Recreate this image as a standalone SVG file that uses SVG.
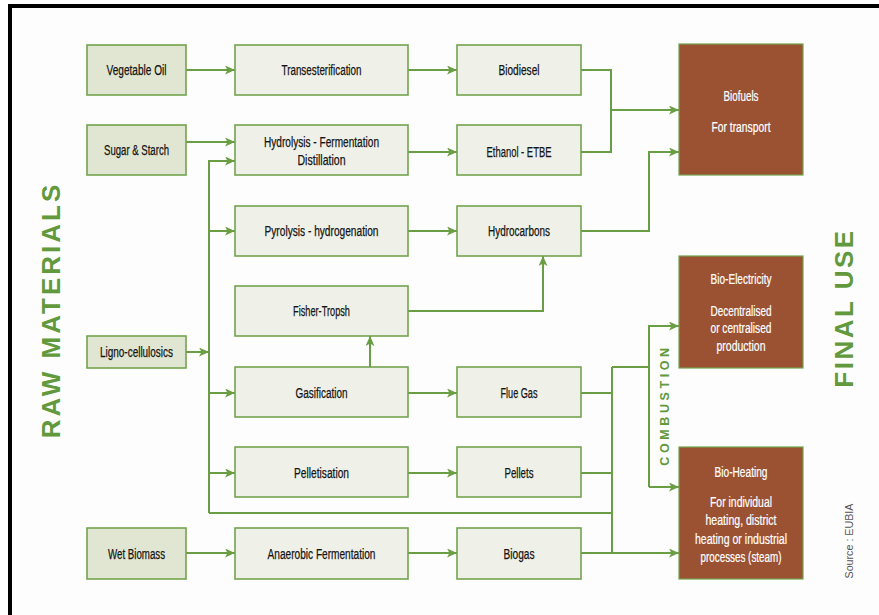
<svg xmlns="http://www.w3.org/2000/svg" width="879" height="615" viewBox="0 0 879 615">
<defs>
<marker id="ah" markerUnits="userSpaceOnUse" markerWidth="11" markerHeight="10" refX="10" refY="4.5" orient="auto">
<path d="M0,0 L10,4.5 L0,9 L2.5,4.5 z" fill="#6a9e44"/>
</marker>
</defs>
<style>
.raw{fill:#e1e6d2;stroke:#72a44e;stroke-width:1.6}
.proc{fill:#eff0e8;stroke:#72a44e;stroke-width:1.6}
.use{fill:#9a5233;stroke:#72a44e;stroke-width:1.2}
.t{font-family:"Liberation Sans",Arial,sans-serif;font-size:14px;fill:#151515;stroke:#151515;stroke-width:0.25;text-anchor:middle}
.w{font-family:"Liberation Sans",Arial,sans-serif;font-size:14px;fill:#ffffff;stroke:#ffffff;stroke-width:0.2;text-anchor:middle}
.c path{fill:none;stroke:#6a9e44;stroke-width:2}
.big{font-family:"Liberation Sans",Arial,sans-serif;font-weight:bold;fill:#62993c;text-anchor:middle}
</style>
<rect x="0" y="0" width="879" height="615" fill="#ffffff"/>
<rect x="10" y="6" width="869" height="609" fill="#fdfdfd"/>
<path d="M10,615 V6 H879" fill="none" stroke="#000" stroke-width="4"/>

<g class="c" id="connectors">
<path d="M186,70 H235" marker-end="url(#ah)"/>
<path d="M408,70 H457" marker-end="url(#ah)"/>
<path d="M186,142 H235" marker-end="url(#ah)"/>
<path d="M408,152 H457" marker-end="url(#ah)"/>
<path d="M581,70 H611 V152 H581"/>
<path d="M611,110 H679" marker-end="url(#ah)"/>
<path d="M581,231 H649 V152 H679" marker-end="url(#ah)"/>
<path d="M209,513 V161 H235" marker-end="url(#ah)"/>
<path d="M209,231 H235" marker-end="url(#ah)"/>
<path d="M209,393 H235" marker-end="url(#ah)"/>
<path d="M209,473 H235" marker-end="url(#ah)"/>
<path d="M186,352 H209" marker-end="url(#ah)"/>
<path d="M408,231 H457" marker-end="url(#ah)"/>
<path d="M408,311 H543 V256" marker-end="url(#ah)"/>
<path d="M370,367 V336" marker-end="url(#ah)"/>
<path d="M408,393 H457" marker-end="url(#ah)"/>
<path d="M408,473 H457" marker-end="url(#ah)"/>
<path d="M186,553 H235" marker-end="url(#ah)"/>
<path d="M408,553 H457" marker-end="url(#ah)"/>
<path d="M209,513 H612"/>
<path d="M581,393 H612"/>
<path d="M581,473 H612"/>
<path d="M612,367 V553"/>
<path d="M581,553 H679" marker-end="url(#ah)"/>
<path d="M612,367 H649"/>
<path d="M649,487 V326 H679" marker-end="url(#ah)"/>
<path d="M649,487 H679" marker-end="url(#ah)"/>
</g>

<g id="vegetable-oil"><rect class="raw" x="87" y="45" width="99" height="50"/><text class="t" x="136.5" y="75" textLength="60" lengthAdjust="spacingAndGlyphs">Vegetable Oil</text></g>
<g id="sugar-starch"><rect class="raw" x="87" y="125" width="99" height="50"/><text class="t" x="136.5" y="155" textLength="65" lengthAdjust="spacingAndGlyphs">Sugar &amp; Starch</text></g>
<g id="ligno"><rect class="raw" x="87" y="336" width="99" height="32"/><text class="t" x="136.5" y="357" textLength="73" lengthAdjust="spacingAndGlyphs">Ligno-cellulosics</text></g>
<g id="wet-biomass"><rect class="raw" x="87" y="528" width="99" height="51"/><text class="t" x="136.5" y="558.5" textLength="57" lengthAdjust="spacingAndGlyphs">Wet Biomass</text></g>

<g id="transesterification"><rect class="proc" x="235" y="45" width="173" height="50"/><text class="t" x="321.5" y="75" textLength="80" lengthAdjust="spacingAndGlyphs">Transesterification</text></g>
<g id="hydrolysis"><rect class="proc" x="235" y="125" width="173" height="50"/><text class="t" x="321.5" y="147" textLength="115" lengthAdjust="spacingAndGlyphs">Hydrolysis - Fermentation</text><text class="t" x="321.5" y="165" textLength="48" lengthAdjust="spacingAndGlyphs">Distillation</text></g>
<g id="pyrolysis"><rect class="proc" x="235" y="206" width="173" height="50"/><text class="t" x="321.5" y="236" textLength="114" lengthAdjust="spacingAndGlyphs">Pyrolysis - hydrogenation</text></g>
<g id="fisher-tropsh"><rect class="proc" x="235" y="286" width="173" height="50"/><text class="t" x="321.5" y="316" textLength="57" lengthAdjust="spacingAndGlyphs">Fisher-Tropsh</text></g>
<g id="gasification"><rect class="proc" x="235" y="367" width="173" height="50"/><text class="t" x="321.5" y="398" textLength="52" lengthAdjust="spacingAndGlyphs">Gasification</text></g>
<g id="pelletisation"><rect class="proc" x="235" y="447" width="173" height="50"/><text class="t" x="321.5" y="478" textLength="55" lengthAdjust="spacingAndGlyphs">Pelletisation</text></g>
<g id="anaerobic"><rect class="proc" x="235" y="528" width="173" height="51"/><text class="t" x="321.5" y="558.5" textLength="108" lengthAdjust="spacingAndGlyphs">Anaerobic Fermentation</text></g>

<g id="biodiesel"><rect class="proc" x="457" y="45" width="124" height="50"/><text class="t" x="519" y="75" textLength="41" lengthAdjust="spacingAndGlyphs">Biodiesel</text></g>
<g id="ethanol"><rect class="proc" x="457" y="125" width="124" height="50"/><text class="t" x="519" y="157" textLength="65" lengthAdjust="spacingAndGlyphs">Ethanol - ETBE</text></g>
<g id="hydrocarbons"><rect class="proc" x="457" y="206" width="124" height="50"/><text class="t" x="519" y="236" textLength="62" lengthAdjust="spacingAndGlyphs">Hydrocarbons</text></g>
<g id="flue-gas"><rect class="proc" x="457" y="367" width="124" height="50"/><text class="t" x="519" y="398" textLength="37" lengthAdjust="spacingAndGlyphs">Flue Gas</text></g>
<g id="pellets"><rect class="proc" x="457" y="447" width="124" height="50"/><text class="t" x="519" y="478" textLength="29" lengthAdjust="spacingAndGlyphs">Pellets</text></g>
<g id="biogas"><rect class="proc" x="457" y="528" width="124" height="51"/><text class="t" x="519" y="558.5" textLength="31" lengthAdjust="spacingAndGlyphs">Biogas</text></g>

<g id="biofuels"><rect class="use" x="679" y="44" width="124" height="131"/><text class="w" x="741" y="101" textLength="35" lengthAdjust="spacingAndGlyphs">Biofuels</text><text class="w" x="741" y="132" textLength="59" lengthAdjust="spacingAndGlyphs">For transport</text></g>
<g id="bio-electricity"><rect class="use" x="679" y="256" width="124" height="112"/><text class="w" x="741" y="284" textLength="61" lengthAdjust="spacingAndGlyphs">Bio-Electricity</text><text class="w" x="741" y="316" textLength="61" lengthAdjust="spacingAndGlyphs">Decentralised</text><text class="w" x="741" y="333" textLength="61" lengthAdjust="spacingAndGlyphs">or centralised</text><text class="w" x="741" y="351" textLength="49" lengthAdjust="spacingAndGlyphs">production</text></g>
<g id="bio-heating"><rect class="use" x="679" y="447" width="124" height="132"/><text class="w" x="741" y="477" textLength="53" lengthAdjust="spacingAndGlyphs">Bio-Heating</text><text class="w" x="741" y="507" textLength="62" lengthAdjust="spacingAndGlyphs">For individual</text><text class="w" x="741" y="525" textLength="71" lengthAdjust="spacingAndGlyphs">heating, district</text><text class="w" x="741" y="543.5" textLength="92" lengthAdjust="spacingAndGlyphs">heating or industrial</text><text class="w" x="741" y="562" textLength="81" lengthAdjust="spacingAndGlyphs">processes (steam)</text></g>

<text class="big" font-size="26" letter-spacing="3" transform="translate(60,310) rotate(-90)">RAW MATERIALS</text>
<text class="big" font-size="26" letter-spacing="2.5" transform="translate(852.5,308) rotate(-90)">FINAL USE</text>
<text class="big" font-size="12.5" letter-spacing="3.6" transform="translate(669,405) rotate(-90)">COMBUSTION</text>
<text font-family="Liberation Sans,Arial,sans-serif" font-size="11" fill="#555" text-anchor="middle" transform="translate(852.5,541) rotate(-90)" textLength="75" lengthAdjust="spacingAndGlyphs">Source : EUBIA</text>
</svg>
